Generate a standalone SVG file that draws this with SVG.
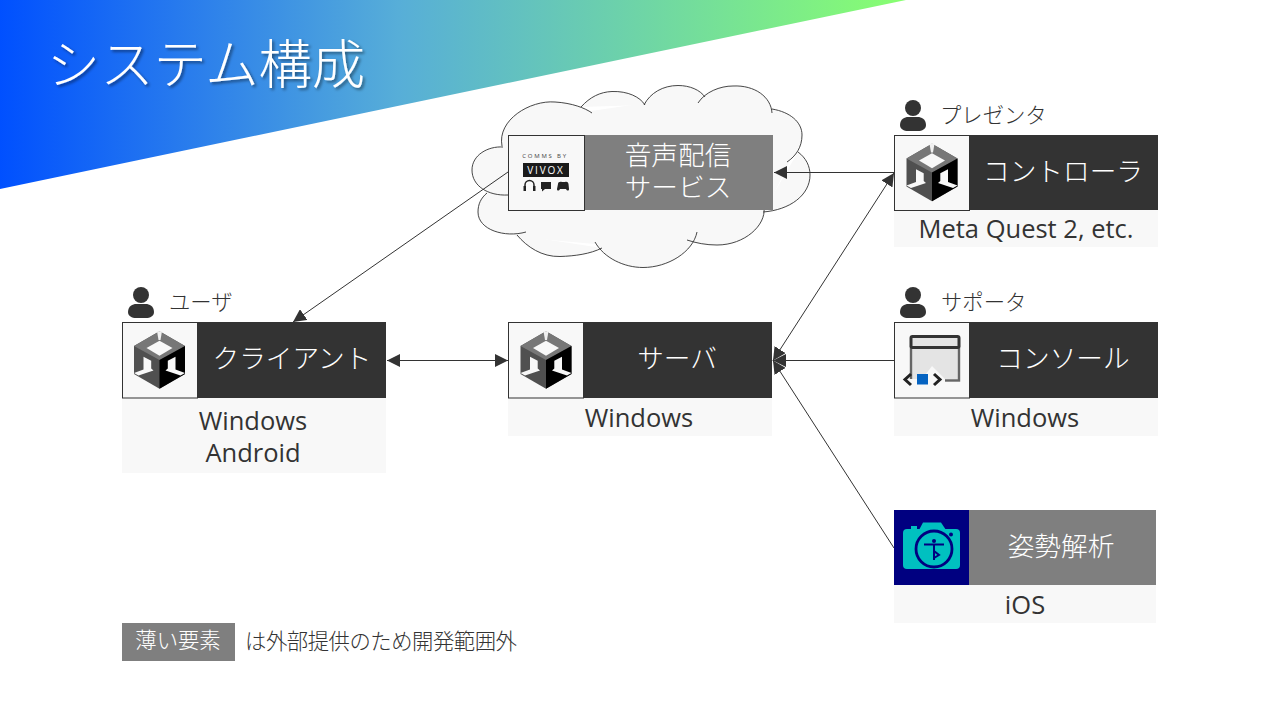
<svg xmlns="http://www.w3.org/2000/svg" xmlns:xlink="http://www.w3.org/1999/xlink" width="1280" height="720" viewBox="0 0 1280 720">
<style>
text{font-family:"Noto Sans CJK JP","Noto Sans",sans-serif;font-weight:300;text-anchor:middle}
.w{fill:#fff;font-size:26.67px}
.p{fill:#333;font-size:25.5px;font-family:"Open Sans","Noto Sans",sans-serif;font-weight:400}
.r{fill:#333;font-size:21.33px;text-anchor:start}
.dark{fill:#333}.gray{fill:#7f7f7f}.light{fill:#f8f8f8}
.box{fill:#f8f8f8;stroke:#333;stroke-width:1}
.c{stroke:#333;stroke-width:1;fill:none}
</style>
<defs>
<linearGradient id="g" gradientUnits="userSpaceOnUse" x1="0" y1="0" x2="906" y2="0">
<stop offset="0" stop-color="#0050ff"/><stop offset="0.44" stop-color="#57aed8"/><stop offset="1" stop-color="#88ff70"/>
</linearGradient>
<filter id="sh" x="-5%" y="-10%" width="110%" height="130%"><feDropShadow dx="2" dy="2" stdDeviation="1.5" flood-color="#000" flood-opacity="0.45"/></filter>
<marker id="a" viewBox="0 0 10 10" refX="10" refY="5" markerWidth="13" markerHeight="13" markerUnits="userSpaceOnUse" orient="auto-start-reverse" preserveAspectRatio="none"><path d="M0 0L10 5L0 10Z" fill="#333"/></marker>
<symbol id="unity" overflow="visible">
<path d="M0-28.700L25.500-14V14L0 28.700L-25.500 14V-14Z" fill="#505050"/>
<path d="M0-28.700L25.500-14L0 0L-25.500-14Z" fill="#777"/>
<path d="M25.500-14L0 0V28.700L25.500 14Z" fill="#000"/>
<path d="M0-19.300L13-12L0-4.300L-13-12Z" fill="#f8f8f8"/>
<path d="M-2.500-28.700H2.500L1-20H-1Z" fill="#f0f0f0"/>
<path d="M-16-3.300L-8.300 .7V8.500L-6 10.500L-21 15.500L-25.500 13L-16 9.500Z" fill="#f8f8f8"/>
<path d="M16-3.300L8.300 .7V8.500L6 10.500L21 15.500L25.500 13L16 9.500Z" fill="#f8f8f8"/>
</symbol>
<symbol id="person" overflow="visible">
<circle cx="0" cy="-9" r="8" fill="#333"/>
<path d="M-13 8C-13 2-8 0-5 0H5C8 0 13 2 13 8C13 12 9 14 5 14H-5C-9 14-13 12-13 8Z" fill="#333"/>
</symbol>
<path id="arcs" d="M502 146C497 120 530 100 555 102C572 103 585 108 592 113M581 107C590 97 600 92 612 91.500C628 91 640 97 645 105M644 105C650 93 663 85.500 678 85.500C690 85.500 700 90 705 97M698 103C705 92 720 86 733 86C755 85 771 97 772 113M772 109C790 112 802 122 802 135C802 147 796 156 787 162M798 152C806 158 810 166 810 175C810 195 790 210 763 212M764 208C766 225 745 245 717 245C706 245 696 243 687 240M697 232C693 252 668 267.500 643 267.500C624 267.500 604 258 595 242M602 248C590 254 575 256 560 256.500C542 257 527 247 517 235M526 232C505 238 478 230 478 212C478 204 481 198 487 193M508 195C488 196 472 186 472 170C472 155 488 146 503 147"/>
</defs>
<rect width="1280" height="720" fill="#fff"/>
<polygon id="banner" points="0,0 906,0 0,189" fill="url(#g)"/>
<text id="title" x="206" y="84" fill="#fff" font-size="53.330" filter="url(#sh)">システム構成</text>
<g id="cloud">
<use xlink:href="#arcs" href="#arcs" fill="#f8f8f8" stroke="#f8f8f8" stroke-width="1"/>
<polygon points="502,146 592,113 645,105 705,97 772,113 787,162 763,212 687,240 595,242 517,235 487,193" fill="#f8f8f8" stroke="#f8f8f8" stroke-width="4"/>
<use xlink:href="#arcs" href="#arcs" fill="none" stroke="#333" stroke-width="0.900"/>
</g>
<g id="connectors">
<path class="c" d="M508 172L293 322" marker-end="url(#a)"/>
<path class="c" d="M894 172.500H774" marker-end="url(#a)"/>
<path class="c" d="M773 360.500L894 173" marker-start="url(#a)" marker-end="url(#a)"/>
<path class="c" d="M894 360.500H773" marker-end="url(#a)"/>
<path class="c" d="M894 548L773 360.500" marker-end="url(#a)"/>
<path class="c" d="M387 360.500H508" marker-start="url(#a)" marker-end="url(#a)"/>
</g>
<g id="voice">
<rect class="gray" x="508" y="135" width="265" height="75"/>
<rect class="box" x="508.500" y="135.500" width="76" height="75"/>
<text x="545" y="158" fill="#444" font-size="6px" letter-spacing="1.800" style="font-family:'Open Sans',sans-serif;font-weight:400">COMMS BY</text>
<rect x="523" y="163" width="46" height="14" fill="#1a1a1a"/>
<text x="546" y="174" fill="#fff" font-size="10px" letter-spacing="1.800" style="font-family:'Open Sans',sans-serif;font-weight:400">VIVOX</text>
<path d="M525 188V185A3.500 3.500 0 0 1 534 185V188" fill="none" stroke="#222" stroke-width="1.500"/>
<rect x="523.500" y="186" width="2.500" height="5" fill="#222"/><rect x="533" y="186" width="2.500" height="5" fill="#222"/>
<path d="M541 182H551V189H545L542 191.500V189H541Z" fill="#222"/>
<path d="M558 184C558 182 560 181.500 562 182H565C567 181.500 568 182 568.500 184L569 189C569 191 567 191 566 189H560C559 191 557 191 557 189Z" fill="#222"/>
<text class="w"><tspan x="678" y="165">音声配信</tspan><tspan x="678" y="197">サービス</tspan></text>
</g>
<g id="controller">
<use xlink:href="#person" href="#person" x="913" y="117"/>
<text class="r" x="940" y="123">プレゼンタ</text>
<rect class="light" x="894" y="210" width="264" height="37"/>
<rect class="dark" x="894" y="135" width="264" height="75"/>
<rect class="box" x="894.500" y="135.500" width="75" height="75"/>
<use xlink:href="#unity" href="#unity" x="932" y="172.500"/>
<text class="w" x="1063" y="181">コントローラ</text>
<text class="p" x="1026" y="238">Meta Quest 2, etc.</text>
</g>
<g id="client">
<use xlink:href="#person" href="#person" x="141" y="304"/>
<text class="r" x="169" y="310">ユーザ</text>
<rect class="light" x="122" y="398" width="264" height="75"/>
<rect class="dark" x="122" y="322" width="264" height="76"/>
<rect class="box" x="122.500" y="322.500" width="75" height="75.500"/>
<use xlink:href="#unity" href="#unity" x="159.500" y="360"/>
<text class="w" x="292" y="368">クライアント</text>
<text class="p" x="253" y="430">Windows</text>
<text class="p" x="253" y="462">Android</text>
</g>
<g id="server">
<rect class="light" x="508" y="398" width="264" height="38"/>
<rect class="dark" x="508" y="322" width="264" height="76"/>
<rect class="box" x="508.500" y="322.500" width="75" height="75.500"/>
<use xlink:href="#unity" href="#unity" x="546" y="360"/>
<text class="w" x="677" y="368">サーバ</text>
<text class="p" x="639" y="427">Windows</text>
</g>
<g id="console">
<use xlink:href="#person" href="#person" x="913" y="304"/>
<text class="r" x="941" y="310">サポータ</text>
<rect class="light" x="894" y="398" width="264" height="38"/>
<rect class="dark" x="894" y="322" width="264" height="76"/>
<rect class="box" x="894.500" y="322.500" width="75" height="75.500"/>
<rect x="911" y="347" width="48" height="33.500" fill="#e4e4e4" stroke="#666" stroke-width="2.400"/>
<rect x="911" y="336.500" width="48" height="11" rx="1.500" fill="#e4e4e4" stroke="#333" stroke-width="3"/>
<path d="M902 379L922 379L932 366L945 379V392H902Z" fill="#f8f8f8"/>
<rect x="917" y="374" width="11" height="10.500" fill="#0563c1"/>
<path d="M911 374L905 379.500L911 385M934 374L940 379.500L934 385" fill="none" stroke="#222" stroke-width="3"/>
<text class="w" x="1063" y="368">コンソール</text>
<text class="p" x="1025" y="427">Windows</text>
</g>
<g id="pose">
<rect class="light" x="894" y="585" width="262" height="38"/>
<rect class="gray" x="894" y="510" width="262" height="75"/>
<rect x="894" y="510" width="75" height="75" fill="#000080"/>
<rect x="903" y="529" width="57" height="40" rx="4" fill="#00c0c0"/>
<path d="M919 530L923 522.500H941L946 530Z" fill="#00c0c0"/>
<rect x="911" y="526" width="6" height="3" fill="#00c0c0"/>
<circle cx="951" cy="534.500" r="2" fill="#000080"/>
<circle cx="934" cy="549" r="18" fill="none" stroke="#000080" stroke-width="2.800"/>
<circle cx="934" cy="541" r="2" fill="#000080"/>
<path d="M924 544.500H944M934 544V560M934 551L939 555L934 558" fill="none" stroke="#000080" stroke-width="2"/>
<text class="w" x="1061" y="556">姿勢解析</text>
<text class="p" x="1025" y="614">iOS</text>
</g>
<g id="legend">
<rect class="gray" x="122" y="623" width="113" height="38"/>
<text x="178" y="648" fill="#fff" font-size="21.330">薄い要素</text>
<text class="r" x="245" y="649" style="letter-spacing:-0.450px">は外部提供のため開発範囲外</text>
</g>
</svg>
